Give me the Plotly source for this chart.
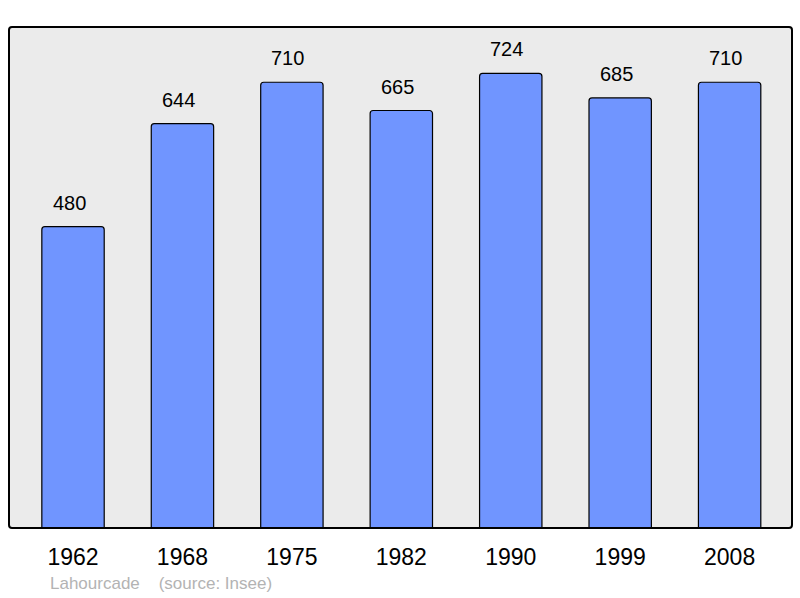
import plotly.graph_objects as go

years = ["1962", "1968", "1975", "1982", "1990", "1999", "2008"]
population = [480, 644, 710, 665, 724, 685, 710]
source_name = "Lahourcade"
source_note = "(source: Insee)"

W, H = 800, 598
L, R, T, B = 9, 8, 27, 70
pw, ph = W - L - R, H - T - B

fig = go.Figure()
fig.add_trace(go.Bar(
    x=years, y=population, width=0.57,
    marker=dict(color="#7095ff", line=dict(color="#000000", width=1.2), cornerradius=3),
    hoverinfo="skip",
))

for i, v in enumerate(population):
    fig.add_annotation(x=i, y=v, text=str(v), showarrow=False, xref="x", yref="y",
                       yanchor="bottom", yshift=11, xshift=-4,
                       font=dict(family="Liberation Sans, Arial", size=20, color="#000000"))

# rounded frame
rx, ry = 3 / pw, 3 / ph
path = (f"M {rx},0 L {1-rx},0 Q 1,0 1,{ry} L 1,{1-ry} Q 1,1 {1-rx},1 "
        f"L {rx},1 Q 0,1 0,{1-ry} L 0,{ry} Q 0,0 {rx},0 Z")
fig.add_shape(type="path", path=path, xref="paper", yref="paper",
              line=dict(color="#000000", width=2), layer="above")

fig.add_annotation(x=(48 - L) / pw, y=-(583 - T - ph) / ph, xref="paper", yref="paper",
                   xanchor="left", yanchor="middle", showarrow=False,
                   text=source_name + "\u00a0\u00a0\u00a0\u00a0" + source_note,
                   font=dict(family="Liberation Sans, Arial", size=17, color="#b3b3b3"))

fig.update_layout(
    width=W, height=H,
    margin=dict(l=L, r=R, t=T, b=B),
    paper_bgcolor="#ffffff", plot_bgcolor="#ebebeb",
    showlegend=False,
    xaxis=dict(type="category", range=[-0.585, 6.57], showgrid=False, zeroline=False,
               showline=False, ticks="outside", ticklen=8, tickcolor="rgba(0,0,0,0)",
               tickfont=dict(family="Liberation Sans, Arial", size=23, color="#000000")),
    yaxis=dict(range=[0, 798], showgrid=False, zeroline=False, showticklabels=False,
               showline=False, ticks=""),
)

fig.write_html("out.html", config={"displayModeBar": False},
               post_script="document.body.style.margin='0';document.body.style.overflow='hidden';")
